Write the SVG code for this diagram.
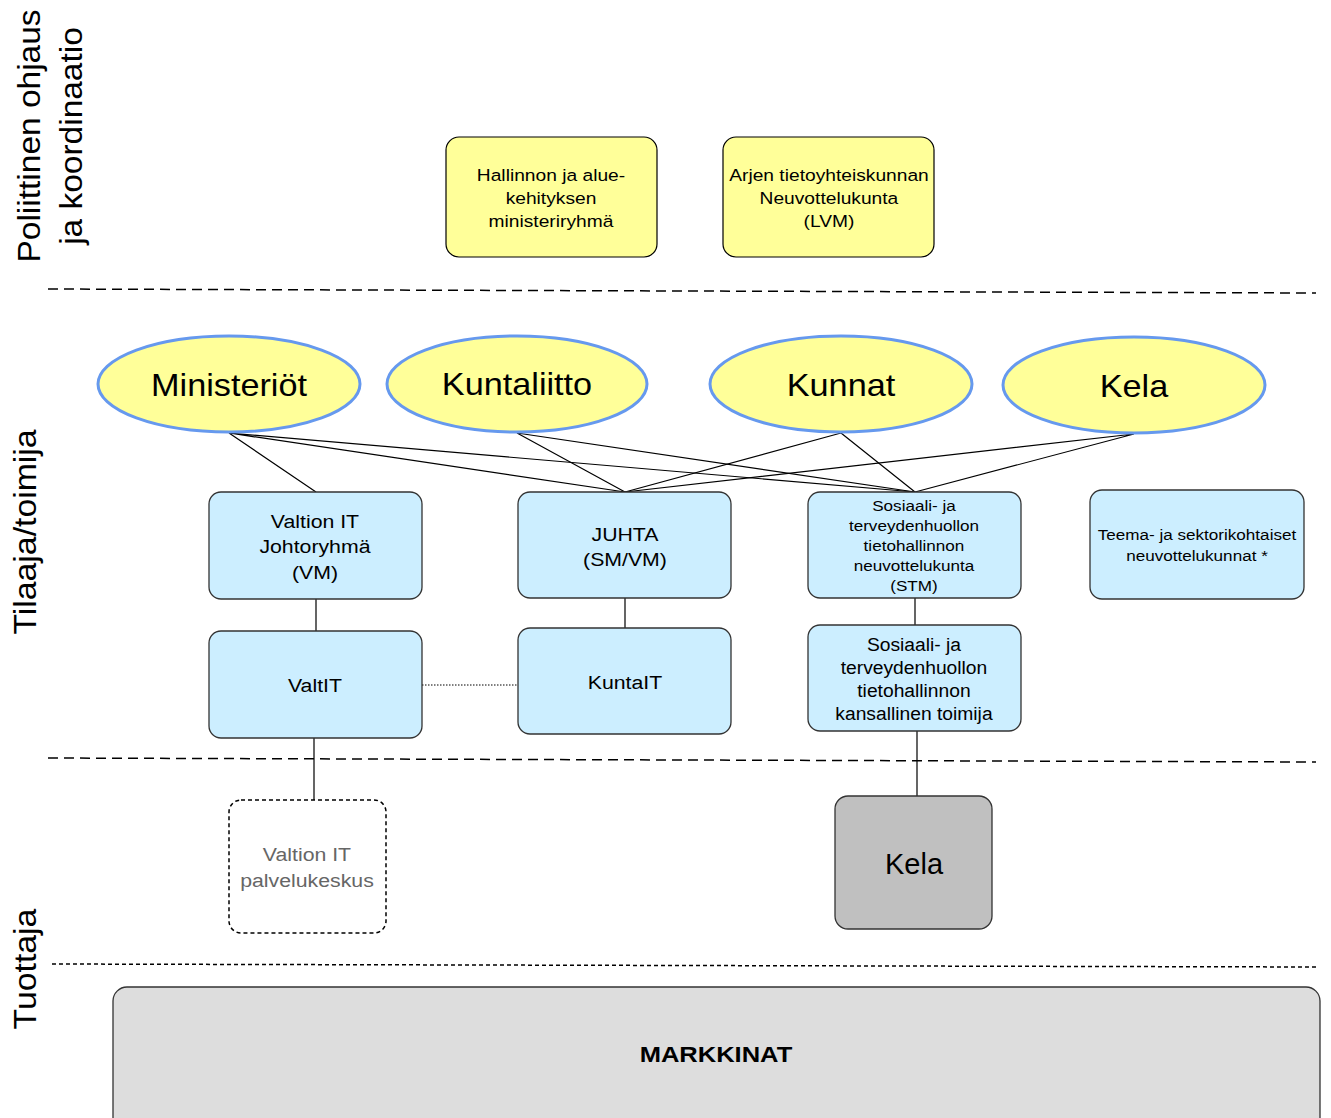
<svg xmlns="http://www.w3.org/2000/svg" width="1331" height="1118" viewBox="0 0 1331 1118">
<style>
text{font-family:"Liberation Sans",Arial,sans-serif;fill:#000;text-anchor:middle;transform-box:fill-box;transform-origin:center}
.lane{font-size:31px;transform-box:view-box;transform-origin:0 0}
.yel{fill:#ffff99;stroke:#000;stroke-width:1.2}
.ell{fill:#ffff99;stroke:#6699ee;stroke-width:3}
.blu{fill:#cceeff;stroke:#333;stroke-width:1.3}
.sep{fill:none;stroke:#000;stroke-width:1.5;stroke-dasharray:10 6}
.con{stroke:#000;stroke-width:1.2;fill:none}
.t17{font-size:17px;transform:scaleX(1.13)}
.t19{font-size:19px;transform:scaleX(1.12)}
.t15{font-size:15px;transform:scaleX(1.14)}
.t18{font-size:18px;transform:scaleX(1.07)}
.big{font-size:32px;transform:scaleX(1.07)}
</style>
<rect width="1331" height="1118" fill="#fff"/>
<g id="lanes">
<text class="lane" transform="translate(40,136) rotate(-90) scale(1.08,1)">Poliittinen ohjaus</text>
<text class="lane" transform="translate(82,136) rotate(-90) scale(1.08,1)">ja koordinaatio</text>
<text class="lane" transform="translate(36,532) rotate(-90) scale(1.09,1)">Tilaaja/toimija</text>
<text class="lane" transform="translate(36,969) rotate(-90) scale(1.09,1)">Tuottaja</text>
<path class="sep" d="M48 289 L1316 293"/>
<path class="sep" d="M48 758 L1316 762"/>
<path class="sep" d="M52 964 L1316 967" style="stroke-dasharray:4 3"/>
</g>
<g id="connectors">
<path class="con" d="M229 433 L316 492 M229 433 L625 492 M229 433 L915 492"/>
<path class="con" d="M517 433 L625 492 M517 433 L915 492"/>
<path class="con" d="M841 433 L625 492 M841 433 L915 492"/>
<path class="con" d="M1134 434 L625 492 M1134 434 L915 492"/>
<path class="con" d="M316 599 V631 M625 598 V628 M915 598 V625 M314 738 V800 M917 731 V796"/>
<path class="con" d="M422 685 H518" style="stroke-dasharray:1.5 1.5;stroke-width:1"/>
</g>
<g id="hallinnon">
<rect class="yel" x="446" y="137" width="211" height="120" rx="13"/>
<text class="t17" x="551" y="181">Hallinnon ja alue-</text>
<text class="t17" x="551" y="204">kehityksen</text>
<text class="t17" x="551" y="227">ministeriryhmä</text>
</g>
<g id="arjen">
<rect class="yel" x="723" y="137" width="211" height="120" rx="13"/>
<text class="t17" x="829" y="181">Arjen tietoyhteiskunnan</text>
<text class="t17" x="829" y="204">Neuvottelukunta</text>
<text class="t17" x="829" y="227">(LVM)</text>
</g>
<g id="ministeriot">
<ellipse class="ell" cx="229" cy="384" rx="131" ry="48"/>
<text class="big" x="229" y="396">Ministeriöt</text>
</g>
<g id="kuntaliitto">
<ellipse class="ell" cx="517" cy="384" rx="130" ry="48"/>
<text class="big" x="517" y="395">Kuntaliitto</text>
</g>
<g id="kunnat">
<ellipse class="ell" cx="841" cy="384" rx="131" ry="48"/>
<text class="big" x="841" y="396">Kunnat</text>
</g>
<g id="kela-ell">
<ellipse class="ell" cx="1134" cy="385" rx="131" ry="48"/>
<text class="big" x="1134" y="397">Kela</text>
</g>
<g id="valtion-it-johtoryhma">
<rect class="blu" x="209" y="492" width="213" height="107" rx="12"/>
<text class="t19" x="315" y="528">Valtion IT</text>
<text class="t19" x="315" y="553">Johtoryhmä</text>
<text class="t19" x="315" y="579">(VM)</text>
</g>
<g id="juhta">
<rect class="blu" x="518" y="492" width="213" height="106" rx="12"/>
<text class="t19" x="625" y="541">JUHTA</text>
<text class="t19" x="625" y="566">(SM/VM)</text>
</g>
<g id="stm">
<rect class="blu" x="808" y="492" width="213" height="106" rx="12"/>
<text class="t15" x="914" y="511">Sosiaali- ja</text>
<text class="t15" x="914" y="531">terveydenhuollon</text>
<text class="t15" x="914" y="551">tietohallinnon</text>
<text class="t15" x="914" y="571">neuvottelukunta</text>
<text class="t15" x="914" y="591">(STM)</text>
</g>
<g id="teema">
<rect class="blu" x="1090" y="490" width="214" height="109" rx="12"/>
<text class="t15" x="1197" y="540">Teema- ja sektorikohtaiset</text>
<text class="t15" x="1197" y="561">neuvottelukunnat *</text>
</g>
<g id="valtit">
<rect class="blu" x="209" y="631" width="213" height="107" rx="12"/>
<text class="t19" x="315" y="692">ValtIT</text>
</g>
<g id="kuntait">
<rect class="blu" x="518" y="628" width="213" height="106" rx="12"/>
<text class="t19" x="625" y="689">KuntaIT</text>
</g>
<g id="kansallinen-toimija">
<rect class="blu" x="808" y="625" width="213" height="106" rx="12"/>
<text class="t18" x="914" y="651">Sosiaali- ja</text>
<text class="t18" x="914" y="674">terveydenhuollon</text>
<text class="t18" x="914" y="697">tietohallinnon</text>
<text class="t18" x="914" y="720">kansallinen toimija</text>
</g>
<g id="palvelukeskus">
<rect x="229" y="800" width="157" height="133" rx="12" fill="#fff" stroke="#000" stroke-width="1.5" stroke-dasharray="4 3"/>
<text class="t19" x="307" y="861" style="fill:#666">Valtion IT</text>
<text class="t19" x="307" y="887" style="fill:#666">palvelukeskus</text>
</g>
<g id="kela-box">
<rect x="835" y="796" width="157" height="133" rx="13" fill="#c0c0c0" stroke="#333" stroke-width="1.3"/>
<text x="914" y="874" style="font-size:29px">Kela</text>
</g>
<g id="markkinat">
<rect x="113" y="987" width="1207" height="150" rx="14" fill="#dddddd" stroke="#333" stroke-width="1.3"/>
<text x="716" y="1062" style="font-size:22px;font-weight:bold;transform:scaleX(1.16)">MARKKINAT</text>
</g>
</svg>
